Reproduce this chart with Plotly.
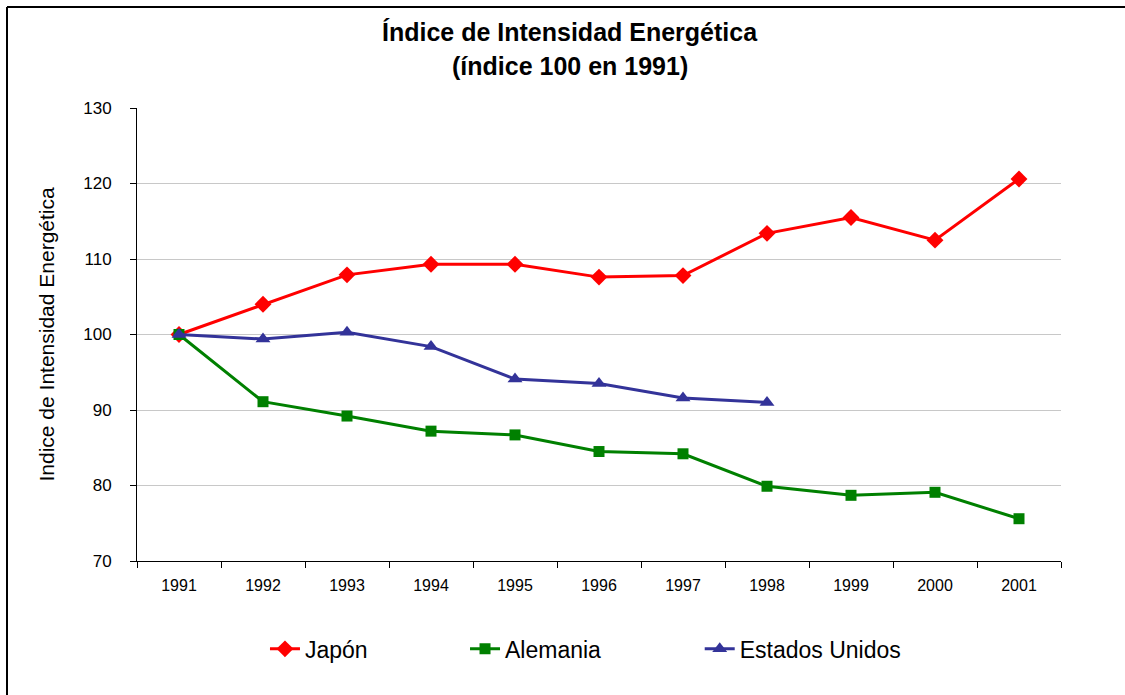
import plotly.graph_objects as go

years = ["1991", "1992", "1993", "1994", "1995", "1996", "1997", "1998", "1999", "2000", "2001"]
japon = [100, 104.0, 107.9, 109.3, 109.3, 107.6, 107.8, 113.4, 115.5, 112.5, 120.6]
alemania = [100, 91.1, 89.2, 87.2, 86.7, 84.5, 84.2, 79.9, 78.7, 79.1, 75.6]
eeuu = [100, 99.4, 100.3, 98.4, 94.1, 93.5, 91.6, 91.0]

title_line1 = "Índice de Intensidad Energética"
title_line2 = "(índice 100 en 1991)"
y_title = "Indice de Intensidad Energética"

FONT = "Arial, Liberation Sans, sans-serif"

fig = go.Figure()
fig.add_trace(go.Scatter(x=years, y=japon, name="Japón", mode="lines+markers",
                         line=dict(color="#ff0000", width=3),
                         marker=dict(symbol="diamond", size=13, color="#ff0000"),
                         legend="legend"))
fig.add_trace(go.Scatter(x=years, y=alemania, name="Alemania", mode="lines+markers",
                         line=dict(color="#008000", width=3),
                         marker=dict(symbol="square", size=11, color="#008000"),
                         legend="legend2"))
fig.add_trace(go.Scatter(x=years[:len(eeuu)], y=eeuu, name="Estados Unidos", mode="lines+markers",
                         line=dict(color="#333399", width=3),
                         marker=dict(symbol="triangle-up", size=13, color="#333399"),
                         legend="legend3"))

leg_common = dict(orientation="h", yanchor="middle", y=-0.194, xanchor="left",
                  font=dict(family=FONT, size=23, color="#000000"),
                  bgcolor="rgba(0,0,0,0)", borderwidth=0)

fig.update_layout(
    width=1125, height=695,
    margin=dict(l=137, r=64, t=108, b=134),
    paper_bgcolor="white", plot_bgcolor="white",
    font=dict(family=FONT, color="#000000"),
    legend=dict(x=0.1385, **leg_common),
    legend2=dict(x=0.355, **leg_common),
    legend3=dict(x=0.609, **leg_common),
    xaxis=dict(type="category", range=[-0.5, len(years) - 0.5],
               tickson="boundaries", ticks="outside", ticklen=6,
               tickcolor="#000000", showline=True, linecolor="#000000", linewidth=1,
               showgrid=False, ticklabelstandoff=10,
               tickfont=dict(family=FONT, size=16, color="#000000")),
    yaxis=dict(range=[70, 130], dtick=10, tick0=70, ticks="outside", ticklen=6,
               tickcolor="#000000", showline=True, linecolor="#000000", linewidth=1,
               showgrid=True, gridcolor="#c8c8c8", gridwidth=1, zeroline=False,
               ticklabelstandoff=15,
               tickfont=dict(family=FONT, size=17, color="#000000")),
    showlegend=True,
)

# title lines
fig.add_annotation(text="<b>" + title_line1 + "</b>", xref="paper", yref="paper",
                   x=(570 - 137) / 924, y=(561 - 32) / 453, xanchor="center", yanchor="middle",
                   showarrow=False, font=dict(family=FONT, size=25, color="#000000"))
fig.add_annotation(text="<b>" + title_line2 + "</b>", xref="paper", yref="paper",
                   x=(570 - 137) / 924, y=(561 - 66) / 453, xanchor="center", yanchor="middle",
                   showarrow=False, font=dict(family=FONT, size=25, color="#000000"))

fig.add_annotation(text=y_title, xref="paper", yref="paper",
                   x=(46 - 137) / 924, y=0.5, xanchor="center", yanchor="middle",
                   textangle=-90, showarrow=False,
                   font=dict(family=FONT, size=21, color="#000000"))

# outer frame (left and top edges visible)
fig.add_shape(type="line", xref="paper", yref="paper",
              x0=(7 - 137) / 924, x1=(7 - 137) / 924, y0=-0.32, y1=(561 - 7) / 453,
              line=dict(color="#000000", width=2))
fig.add_shape(type="line", xref="paper", yref="paper",
              x0=(7 - 137) / 924, x1=1.1, y0=(561 - 7) / 453, y1=(561 - 7) / 453,
              line=dict(color="#000000", width=2))

fig.write_html("out.html", config={"displayModeBar": False},
               post_script="document.body.style.margin='0';")
